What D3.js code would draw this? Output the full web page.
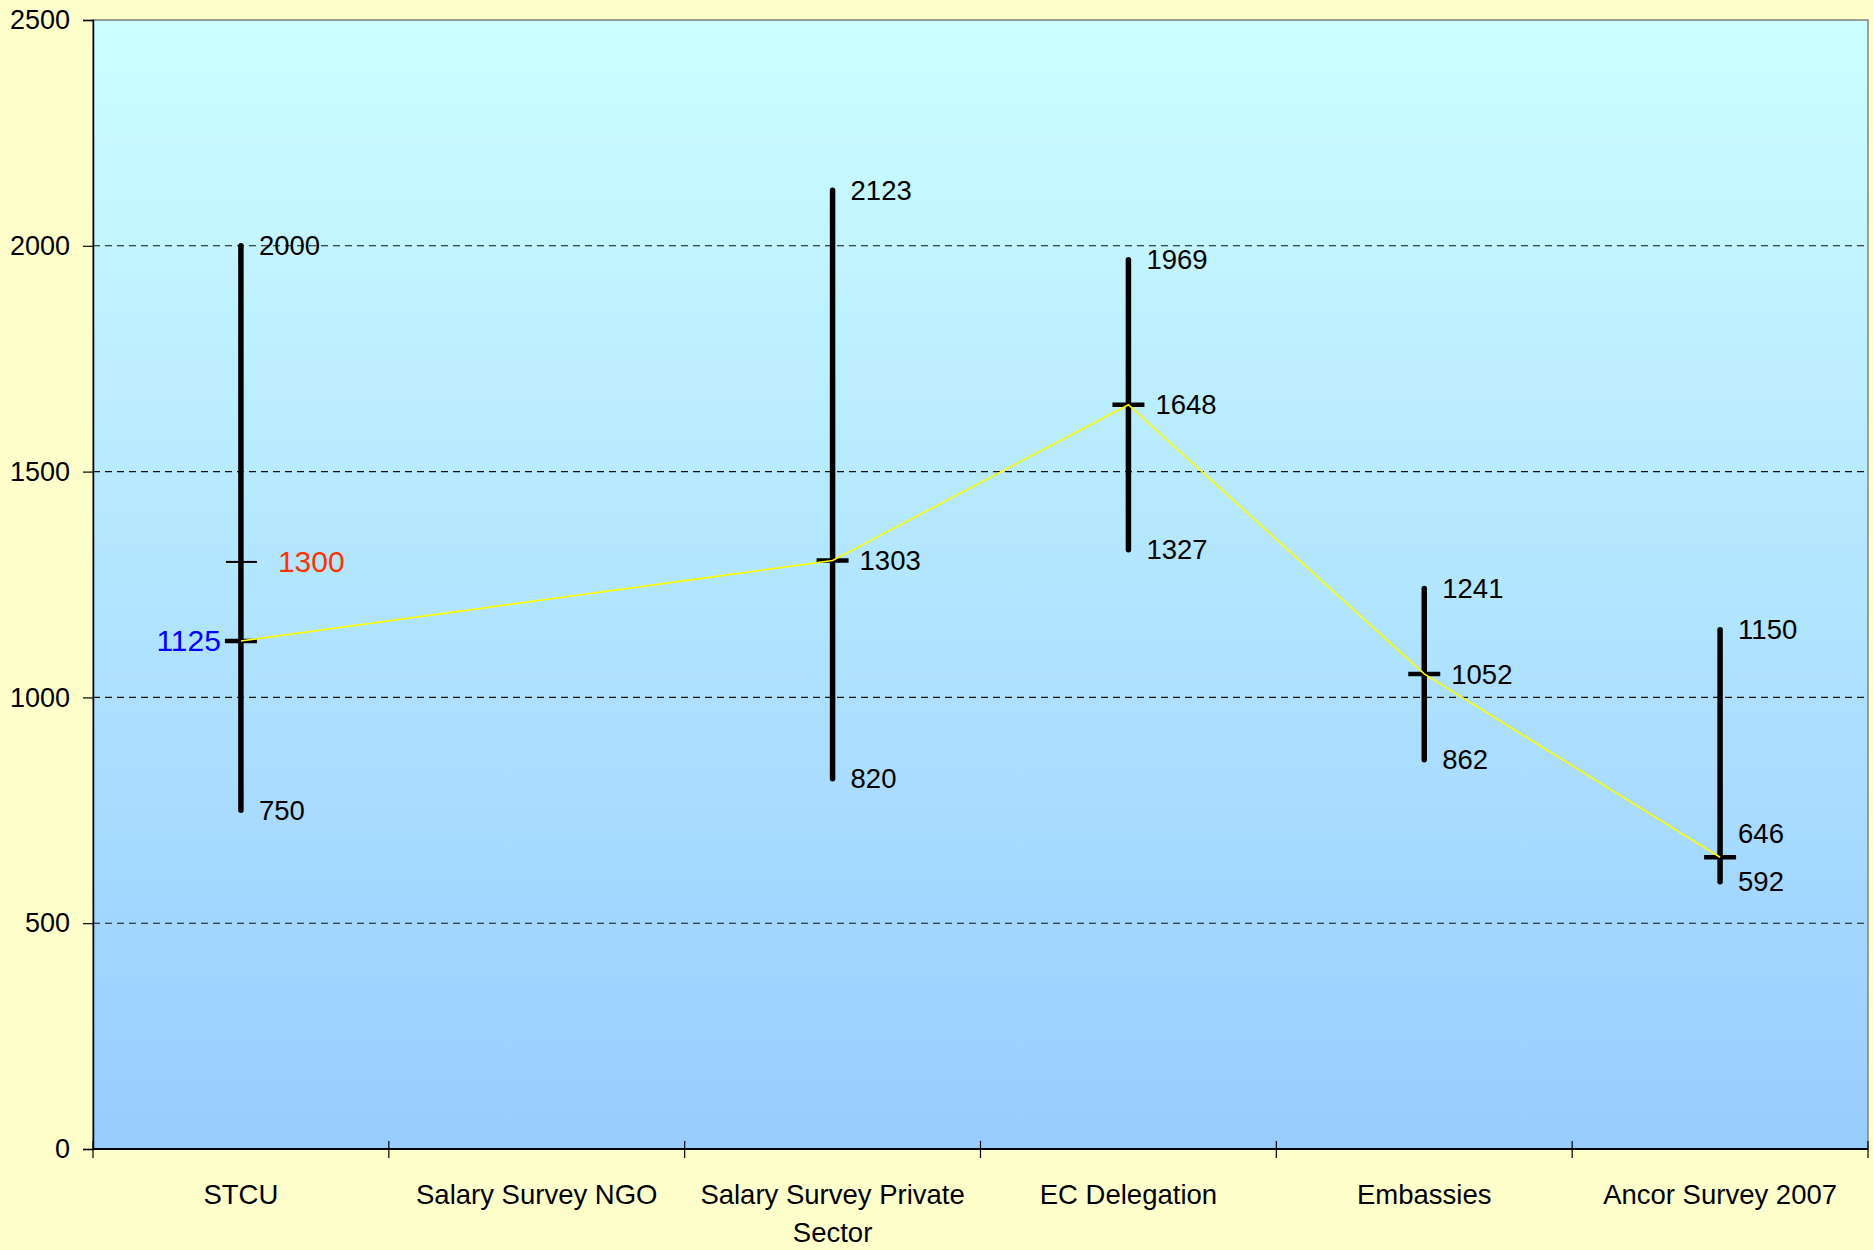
<!DOCTYPE html>
<html>
<head>
<meta charset="utf-8">
<script src="https://cdn.jsdelivr.net/npm/d3@7"></script>
<style>
  html, body { margin: 0; padding: 0; background: #ffffcc; }
  svg { display: block; }
  text { font-family: "Liberation Sans", Arial, sans-serif; }
</style>
</head>
<body>
<svg id="chart" width="1873" height="1250"></svg>
<script>
// Salary ranges per source: high, low and average values
const categories = ["STCU", "Salary Survey NGO", "Salary Survey Private Sector", "EC Delegation", "Embassies", "Ancor Survey 2007"];
const highs = [2000, null, 2123, 1969, 1241, 1150];
const lows  = [750, null, 820, 1327, 862, 592];
const means = [1125, null, 1303, 1648, 1052, 646];
// Proposed STCU level, shown as a separate marker
const targetCategory = "STCU";
const targetValue = 1300;
const yTicks = [0, 500, 1000, 1500, 2000, 2500];

const W = 1873, H = 1250;
const margin = { left: 93, right: 5, top: 20, bottom: 101 };
const svg = d3.select("#chart");

svg.append("rect").attr("width", W).attr("height", H).attr("fill", "#ffffcc");

const x = d3.scaleBand().domain(categories).range([margin.left, W - margin.right]);
const y = d3.scaleLinear().domain([0, 2500]).range([H - margin.bottom, margin.top]);

const defs = svg.append("defs");
const grad = defs.append("linearGradient").attr("id", "plotFill")
  .attr("x1", 0).attr("y1", 0).attr("x2", 0).attr("y2", 1);
grad.append("stop").attr("offset", "0%").attr("stop-color", "#ccffff");
grad.append("stop").attr("offset", "100%").attr("stop-color", "#99ccff");

const [x0, x1] = x.range();
const [yb, yt] = y.range();

// Plot area
svg.append("rect")
  .attr("x", x0).attr("y", yt)
  .attr("width", x1 - x0).attr("height", yb - yt)
  .attr("fill", "url(#plotFill)")
  .attr("stroke", "#808080").attr("stroke-width", 1.5);

// Dashed gridlines
svg.append("g").selectAll("line")
  .data(yTicks.filter(v => v > 0 && v < 2500))
  .join("line")
  .attr("x1", x0).attr("x2", x1)
  .attr("y1", d => y(d)).attr("y2", d => y(d))
  .attr("stroke", "#111").attr("stroke-width", 1.1)
  .attr("stroke-dasharray", "7,5");

// Y axis
const yAxis = svg.append("g")
  .attr("transform", `translate(${x0},0)`)
  .call(d3.axisLeft(y).tickValues(yTicks).tickSize(10).tickPadding(13).tickFormat(d3.format("d")));
yAxis.select(".domain").attr("stroke", "#000").attr("stroke-width", 1.5);
yAxis.selectAll(".tick line").attr("stroke", "#000").attr("stroke-width", 1.2);
yAxis.selectAll("text").attr("font-size", 27).attr("fill", "#000")
  .attr("font-family", "'Liberation Sans', Arial, sans-serif");

// X axis: baseline, boundary ticks, category labels
svg.append("line")
  .attr("x1", x0).attr("x2", x1).attr("y1", yb).attr("y2", yb)
  .attr("stroke", "#000").attr("stroke-width", 2);
const bounds = categories.map(c => x(c)).concat([x1]);
svg.append("g").selectAll("line")
  .data(bounds)
  .join("line")
  .attr("x1", d => d).attr("x2", d => d)
  .attr("y1", yb - 8).attr("y2", yb + 9)
  .attr("stroke", "#000").attr("stroke-width", 1.2);

const catLabels = svg.append("g").selectAll("text")
  .data(categories)
  .join("text")
  .attr("x", d => x(d) + x.bandwidth() / 2)
  .attr("y", yb + 55)
  .attr("text-anchor", "middle")
  .attr("font-size", 27.5)
  .attr("fill", "#000");

// wrap long category names within the band
catLabels.each(function (d) {
  const t = d3.select(this);
  const words = d.split(" ");
  const maxW = x.bandwidth() - 16;
  let line = [];
  let tspan = t.append("tspan").attr("x", t.attr("x")).attr("dy", 0);
  words.forEach(w => {
    line.push(w);
    tspan.text(line.join(" "));
    if (tspan.node().getComputedTextLength() > maxW && line.length > 1) {
      line.pop();
      tspan.text(line.join(" "));
      line = [w];
      tspan = t.append("tspan").attr("x", t.attr("x")).attr("dy", 38).text(w);
    }
  });
});

const rows = categories.map((c, i) => ({ c, high: highs[i], low: lows[i], mean: means[i] }))
  .filter(r => r.high != null);
const cx = c => x(c) + x.bandwidth() / 2;

// High-low bars
svg.append("g").selectAll("line")
  .data(rows)
  .join("line")
  .attr("x1", d => cx(d.c)).attr("x2", d => cx(d.c))
  .attr("y1", d => y(d.high)).attr("y2", d => y(d.low))
  .attr("stroke", "#000").attr("stroke-width", 5.5).attr("stroke-linecap", "round");

// Average markers
svg.append("g").selectAll("line")
  .data(rows)
  .join("line")
  .attr("x1", d => cx(d.c) - 16).attr("x2", d => cx(d.c) + 16)
  .attr("y1", d => y(d.mean)).attr("y2", d => y(d.mean))
  .attr("stroke", "#000").attr("stroke-width", 4.5);

// Target marker
svg.append("line")
  .attr("x1", cx(targetCategory) - 15).attr("x2", cx(targetCategory) + 16)
  .attr("y1", y(targetValue)).attr("y2", y(targetValue))
  .attr("stroke", "#000").attr("stroke-width", 2);

// Line through the averages
const line = d3.line().x(d => cx(d.c)).y(d => y(d.mean));
svg.append("path")
  .datum(rows)
  .attr("d", line)
  .attr("fill", "none")
  .attr("stroke", "#ffff00").attr("stroke-width", 1.6);

// Value labels
const lbl = svg.append("g").attr("font-size", 27.5).attr("fill", "#000");
rows.forEach(r => {
  const px = cx(r.c);
  lbl.append("text").attr("x", px + 18).attr("y", y(r.high)).attr("dy", "0.35em").text(r.high);
  lbl.append("text").attr("x", px + 18).attr("y", y(r.low)).attr("dy", "0.35em").text(r.low);
  if (r.c === targetCategory) {
    lbl.append("text").attr("x", px - 20).attr("y", y(r.mean)).attr("dy", "0.35em")
      .attr("text-anchor", "end").attr("font-size", 30).attr("fill", "#0000ff").text(r.mean);
  } else if (y(r.low) - y(r.mean) < 45) {
    // keep clear of the low label when both sit close together
    lbl.append("text").attr("x", px + 18).attr("y", y(r.mean) - 24).attr("dy", "0.35em").text(r.mean);
  } else {
    lbl.append("text").attr("x", px + 27).attr("y", y(r.mean)).attr("dy", "0.35em").text(r.mean);
  }
});
lbl.append("text").attr("x", cx(targetCategory) + 37).attr("y", y(targetValue)).attr("dy", "0.35em")
  .attr("font-size", 30).attr("fill", "#ff3300").text(targetValue);
</script>
</body>
</html>
